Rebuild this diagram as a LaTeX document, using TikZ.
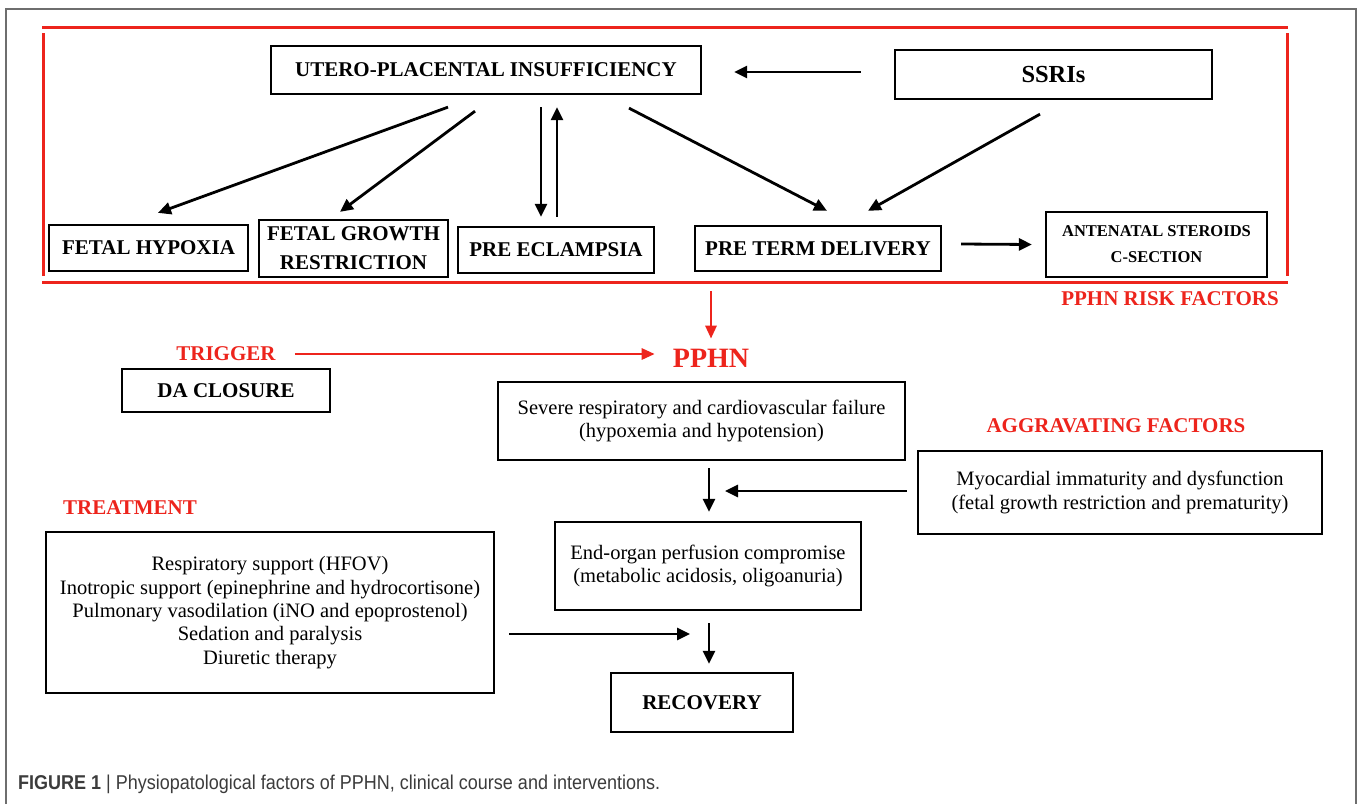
\documentclass[tikz,border=0pt]{standalone}
\usepackage{fontspec}
\usepackage{graphicx}
\setmainfont{Liberation Serif}
\newfontfamily\capfont{Liberation Sans}
\usetikzlibrary{arrows.meta}
\definecolor{pred}{RGB}{237,36,28}
\definecolor{framegray}{RGB}{110,110,110}
\definecolor{captxt}{RGB}{60,60,60}
\tikzset{
 box/.style={draw=black, line width=2.3pt, inner sep=0pt, align=center},
 bt/.style={font=\fontsize{21}{29}\selectfont\bfseries},
 rt/.style={font=\fontsize{20.5}{23.4}\selectfont},
 arr/.style={line width=2.8pt, -{Triangle[length=13pt,width=12pt]}},
 redarr/.style={draw=pred, line width=2.8pt, -{Triangle[length=13pt,width=11pt]}},
 redlbl/.style={text=pred, font=\fontsize{21}{25}\selectfont\bfseries, inner sep=0pt},
}
\begin{document}
\begin{tikzpicture}[x=1pt,y=-1pt]
\useasboundingbox (0,0) rectangle (1358,804);
\fill[white] (0,0) rectangle (1358,804);
% outer gray frame
\draw[framegray, line width=1.4pt] (6,804) -- (6,9) -- (1356,9) -- (1356,804);
% red risk-factor frame
\draw[pred, line width=3pt] (42,27) -- (1288,27);
\draw[pred, line width=3pt] (42,282) -- (1288,282);
\draw[pred, line width=3pt] (43,33) -- (43,276);
\draw[pred, line width=3pt] (1287,33) -- (1287,276);

% boxes
\node[box,bt,minimum width=430pt,minimum height=48pt] (upi) at (486,70) {UTERO-PLACENTAL INSUFFICIENCY};
\node[box,font=\fontsize{24.5}{28}\selectfont\bfseries,minimum width=317pt,minimum height=49pt] (ssri) at (1053.5,74.5) {SSRIs};
\node[box,bt,minimum width=199pt,minimum height=46pt] (hyp) at (148.5,248) {FETAL HYPOXIA};
\node[box,bt,minimum width=189pt,minimum height=57pt] (fgr) at (353.5,248.5) {FETAL GROWTH\\RESTRICTION};
\node[box,bt,minimum width=196pt,minimum height=46pt] (pe) at (556,250) {PRE ECLAMPSIA};
\node[box,bt,minimum width=246pt,minimum height=45pt] (ptd) at (818,248.5) {PRE TERM DELIVERY};
\node[box,font=\fontsize{16.5}{26}\selectfont\bfseries,minimum width=221pt,minimum height=65pt] (ant) at (1156.5,244.5) {ANTENATAL STEROIDS\\C-SECTION};

\node[box,bt,minimum width=208pt,minimum height=43pt] (da) at (226,390.5) {DA CLOSURE};
\node[box,rt,minimum width=407pt,minimum height=78pt] (sev) at (701.5,421) {Severe respiratory and cardiovascular failure\\(hypoxemia and hypotension)};
\node[box,rt,minimum width=404pt,minimum height=83pt] (myo) at (1120,492.5) {Myocardial immaturity and dysfunction\\(fetal growth restriction and prematurity)};
\node[box,rt,minimum width=306pt,minimum height=88pt] (end) at (708,566) {End-organ perfusion compromise\\(metabolic acidosis, oligoanuria)};
\node[box,rt,minimum width=448pt,minimum height=161pt] (trt) at (270,612.5) {Respiratory support (HFOV)\\Inotropic support (epinephrine and hydrocortisone)\\Pulmonary vasodilation (iNO and epoprostenol)\\Sedation and paralysis\\Diuretic therapy};
\node[box,bt,minimum width=182pt,minimum height=59pt] (rec) at (702,702.5) {RECOVERY};

% red labels
\node[redlbl] (risk) at (1170,299) {PPHN RISK FACTORS};
\node[redlbl] (trig) at (226,354) {TRIGGER};
\node[redlbl, font=\fontsize{28}{32}\selectfont\bfseries] (pphn) at (711,358) {PPHN};
\node[redlbl] (aggr) at (1116,426) {AGGRAVATING FACTORS};
\node[redlbl] (treat) at (130,508) {TREATMENT};

% helper coordinates
\coordinate (riskout) at (711,291);
\coordinate (mid1) at (709,491);
\coordinate (mid2) at (709,634);

% top arrows
\draw[arr] ([xshift=-33pt,yshift=2.5pt]ssri.west) -- ([xshift=32pt,yshift=-2pt]upi.east);
\draw[arr] ([xshift=-38pt,yshift=-12pt]upi.south) -- ([xshift=9.5pt,yshift=11pt]hyp.north);
\draw[arr] ([xshift=-11pt,yshift=-16pt]upi.south) -- ([xshift=-13.5pt,yshift=7pt]fgr.north);
\draw[arr] ([xshift=55pt,yshift=-12pt]upi.south) -- ([xshift=-15pt,yshift=9pt]pe.north);
\draw[arr] ([xshift=1pt,yshift=9pt]pe.north) -- ([xshift=71pt,yshift=-12pt]upi.south);
\draw[arr] ([xshift=143pt,yshift=-13pt]upi.south) -- ([xshift=9pt,yshift=14pt]ptd.north);
\draw[arr] ([xshift=-13.5pt,yshift=-14pt]ssri.south) -- ([xshift=50pt,yshift=14pt]ptd.north);
\draw[arr] ([xshift=19pt,yshift=4.5pt]ptd.east) -- ([xshift=-13pt,yshift=0pt]ant.west);

% red arrows
\draw[redarr] (riskout) -- ([yshift=10pt]pphn.north);
\draw[redarr] ([xshift=19pt]trig.east) -- ([xshift=-18pt]pphn.west |- trig.east);

% lower arrows
\draw[arr] ([xshift=7.5pt,yshift=-7pt]sev.south) -- ([xshift=1pt,yshift=9pt]end.north);
\draw[arr] ([xshift=-10pt]myo.west |- mid1) -- ([xshift=16pt]mid1);
\draw[arr] ([xshift=1pt,yshift=-12pt]end.south) -- ([xshift=7pt,yshift=8pt]rec.north);
\draw[arr] ([xshift=14pt]trt.east |- mid2) -- ([xshift=-19pt]mid2);

% caption
\node[anchor=base west, inner sep=0pt, text=captxt, font=\capfont\fontsize{20}{22}\selectfont] (cap) at (18,789) {\scalebox{0.9}[1]{\textbf{FIGURE 1} | Physiopatological factors of PPHN, clinical course and interventions.}};
\end{tikzpicture}
\end{document}
